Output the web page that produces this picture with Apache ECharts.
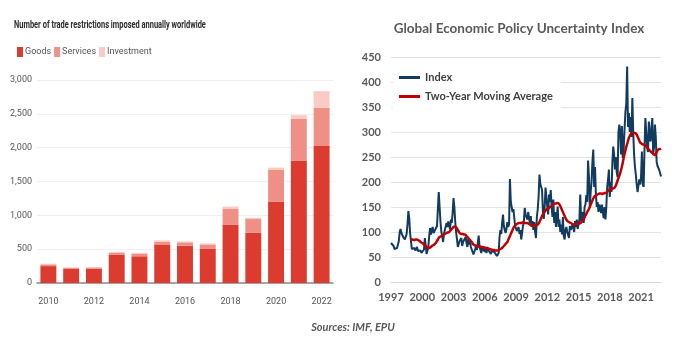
<!DOCTYPE html>
<html>
<head>
<meta charset="utf-8">
<script src="https://cdn.jsdelivr.net/npm/echarts@6/dist/echarts.min.js"></script>
<style>
html,body{margin:0;padding:0;background:#fff;}
#chart{width:700px;height:358px;}
</style>
</head>
<body>
<div id="chart"></div>
<script>
// ---- Left panel: trade restrictions ----
const years = ['2010','2011','2012','2013','2014','2015','2016','2017','2018','2019','2020','2021','2022'];
const goods = [250, 210, 210, 420, 395, 570, 550, 510, 865, 745, 1205, 1805, 2025];
const services = [25, 15, 20, 30, 40, 40, 50, 60, 235, 200, 465, 625, 565];
const investment = [10, 5, 5, 10, 10, 20, 15, 15, 30, 20, 35, 50, 245];

// ---- Right panel: Global EPU index (monthly, Jan 1997 - Dec 2022) ----
const epuStartYear = 1997;
const epuEndYear = 2022;
const epuIndex = [
  78, 76, 80, 72, 66, 63, 65, 68, 72, 82, 100, 106,
  98, 94, 90, 86, 85, 88, 96, 115, 142, 128, 98, 82,
  66, 70, 64, 68, 63, 66, 70, 62, 65, 60, 63, 58,
  62, 60, 65, 88, 72, 56, 54, 70, 92, 108, 95, 104,
  110, 98, 95, 105, 102, 112, 108, 180, 176, 120, 100, 92,
  80, 96, 104, 100, 118, 110, 121, 115, 105, 125, 118, 138,
  168, 150, 120, 100, 85, 70, 74, 82, 78, 88, 72, 80,
  76, 84, 90, 78, 70, 86, 75, 82, 70, 66, 60, 55,
  52, 66, 72, 64, 68, 93, 70, 64, 58, 70, 62, 68,
  60, 66, 58, 70, 64, 60, 68, 56, 62, 58, 64, 60,
  56, 62, 52, 48, 58, 90, 104, 96, 118, 135, 112, 104,
  98, 106, 120, 110, 115, 206, 160, 150, 140, 146, 128, 112,
  108, 102, 100, 110, 96, 104, 85, 98, 112, 120, 148, 135,
  130, 125, 140, 128, 118, 132, 110, 122, 104, 120, 100, 88,
  130, 145, 170, 215, 196, 200, 184, 140, 126, 150, 189, 170,
  150, 135, 175, 160, 184, 150, 130, 165, 118, 140, 110, 130,
  151, 110, 125, 100, 115, 95, 130, 92, 85, 105, 110, 100,
  96, 88, 112, 104, 100, 115, 118, 100, 122, 110, 125, 106,
  110, 124, 175, 122, 132, 140, 118, 150, 155, 174, 160, 243,
  210, 150, 180, 200, 240, 265, 190, 230, 176, 150, 160, 140,
  155, 150, 138, 155, 140, 128, 150, 125, 150, 190, 205, 225,
  170, 200, 180, 240, 271, 255, 225, 250, 220, 210, 300, 315,
  300, 255, 312, 248, 265, 305, 340, 357, 431, 310, 338, 300,
  330, 290, 368, 300, 255, 230, 215, 195, 180, 176, 205, 195,
  210, 261, 195, 190, 265, 328, 300, 270, 260, 321, 290, 281,
  310, 328, 255, 270, 315, 290, 240, 232, 230, 224, 226, 211
];
const epuMovingAvg = [
  null, null, null, null, null, null, null, null, null, null, null, null,
  null, null, null, null, null, null, null, null, null, null, null, 85,
  85, 85, 84, 84, 85, 85, 85, 84, 83, 82, 80, 79,
  78, 77, 75, 74, 72, 70, 69, 68, 68, 69, 70, 72,
  73, 74, 75, 77, 79, 82, 85, 88, 90, 91, 92, 93,
  94, 95, 96, 97, 98, 99, 99, 100, 102, 104, 106, 108,
  110, 111, 110, 109, 107, 104, 101, 98, 97, 96, 96, 96,
  95, 95, 94, 92, 90, 88, 86, 84, 82, 80, 77, 75,
  74, 73, 73, 72, 72, 71, 71, 71, 70, 70, 70, 69,
  69, 68, 68, 67, 67, 66, 66, 65, 65, 64, 64, 64,
  63, 63, 63, 63, 64, 65, 66, 67, 68, 70, 72, 74,
  76, 78, 80, 84, 88, 92, 96, 100, 104, 108, 111, 113,
  115, 116, 117, 118, 118, 118, 118, 119, 119, 118, 118, 118,
  118, 118, 117, 116, 115, 114, 114, 113, 113, 112, 113, 113,
  114, 115, 117, 120, 124, 128, 132, 135, 138, 141, 143, 145,
  146, 147, 148, 150, 151, 152, 154, 155, 156, 157, 157, 158,
  158, 157, 155, 152, 148, 144, 140, 136, 132, 128, 125, 122,
  121, 120, 119, 118, 117, 116, 115, 115, 115, 116, 116, 117,
  117, 117, 118, 119, 121, 123, 126, 129, 133, 136, 140, 143,
  146, 150, 155, 159, 163, 167, 170, 172, 173, 174, 175, 176,
  177, 177, 177, 176, 177, 177, 178, 178, 179, 180, 182, 184,
  185, 186, 186, 187, 187, 188, 190, 193, 198, 203, 208, 213,
  218, 224, 231, 239, 248, 256, 263, 270, 276, 282, 288, 292,
  295, 297, 298, 298, 298, 298, 297, 295, 291, 287, 283, 279,
  278, 276, 275, 275, 274, 273, 271, 269, 267, 265, 263, 261,
  260, 258, 256, 255, 254, 256, 260, 263, 265, 266, 266, 267
];

const months = [];
for (let y = epuStartYear; y <= epuEndYear; y++) {
  for (let m = 1; m <= 12; m++) months.push(y + '-' + (m < 10 ? '0' + m : m));
}

const narrow = "Roboto, 'Liberation Sans', sans-serif";
const calib = "Lato, 'Open Sans', sans-serif";

const chart = echarts.init(document.getElementById('chart'), null, {renderer: 'canvas'});
chart.setOption({
  backgroundColor: '#ffffff',
  animation: false,
  graphic: [
    {
      type: 'text', x: 14, y: 20, scaleX: 0.71,
      style: {
        text: 'Number of trade restrictions imposed annually worldwide',
        font: 'bold 10.5px Roboto, sans-serif', fill: '#2b2b2b',
        textVerticalAlign: 'top'
      }
    }
  ],
  title: [
    {
      text: 'Global Economic Policy Uncertainty Index',
      left: 514, top: 17, textAlign: 'center',
      textStyle: {fontFamily: calib, fontSize: 13.5, fontWeight: 'bold', color: '#595959'}
    },
    {
      text: 'Sources: IMF, EPU',
      left: 348, top: 317, textAlign: 'center',
      textStyle: {fontFamily: calib, fontSize: 11, fontWeight: 'bold', fontStyle: 'italic', color: '#595959'}
    }
  ],
  legend: [
    {
      data: ['Goods', 'Services', 'Investment'],
      left: 12, top: 42,
      icon: 'rect', itemWidth: 6, itemHeight: 10, itemGap: 3,
      textStyle: {fontFamily: narrow, fontSize: 9, color: '#555', padding: [0, 0, 0, -3]}
    },
    {
      data: ['Index', 'Two-Year Moving Average'],
      left: 393, top: 66, orient: 'vertical',
      icon: 'rect', itemWidth: 21, itemHeight: 3, itemGap: 8,
      backgroundColor: '#ffffff',
      padding: [6, 8, 8, 6],
      textStyle: {fontFamily: calib, fontSize: 11, fontWeight: 'bold', color: '#404040'}
    }
  ],
  grid: [
    {left: 37, right: 367, top: 80, bottom: 75},
    {left: 391, right: 39, top: 57, bottom: 76}
  ],
  xAxis: [
    {
      gridIndex: 0, type: 'category', data: years,
      axisLine: {lineStyle: {color: '#8a8a8a', width: 1.5}},
      axisTick: {show: false},
      axisLabel: {interval: 1, margin: 14, fontFamily: narrow, fontSize: 9, color: '#555'}
    },
    {
      gridIndex: 1, type: 'category', data: months, boundaryGap: false,
      axisLine: {lineStyle: {color: '#d9d9d9', width: 1}},
      axisTick: {show: false},
      axisLabel: {
        interval: 35, margin: 10, fontFamily: calib, fontSize: 11, fontWeight: 'bold', color: '#595959',
        formatter: v => v.slice(0, 4)
      }
    }
  ],
  yAxis: [
    {
      gridIndex: 0, type: 'value', min: 0, max: 3000, interval: 500,
      axisLine: {show: false}, axisTick: {show: false},
      splitLine: {lineStyle: {color: '#efefef', width: 1}},
      axisLabel: {margin: 5, fontFamily: narrow, fontSize: 9, color: '#555',
        formatter: v => v.toLocaleString('en-US')}
    },
    {
      gridIndex: 1, type: 'value', min: 0, max: 450, interval: 50,
      axisLine: {show: false}, axisTick: {show: false},
      splitLine: {lineStyle: {color: '#e3e3e3', width: 1}},
      axisLabel: {margin: 10, fontFamily: calib, fontSize: 11, fontWeight: 'bold', color: '#595959'}
    }
  ],
  series: [
    {name: 'Goods', type: 'bar', stack: 'tr', xAxisIndex: 0, yAxisIndex: 0, data: goods,
     barWidth: '70%', itemStyle: {color: '#dc3c30'}},
    {name: 'Services', type: 'bar', stack: 'tr', xAxisIndex: 0, yAxisIndex: 0, data: services,
     barWidth: '70%', itemStyle: {color: '#ef9087'}},
    {name: 'Investment', type: 'bar', stack: 'tr', xAxisIndex: 0, yAxisIndex: 0, data: investment,
     barWidth: '70%', itemStyle: {color: '#f9cbc2'}},
    {name: 'Index', type: 'line', xAxisIndex: 1, yAxisIndex: 1, data: epuIndex,
     symbol: 'none', lineStyle: {color: '#123b60', width: 2}, itemStyle: {color: '#123b60'}},
    {name: 'Two-Year Moving Average', type: 'line', xAxisIndex: 1, yAxisIndex: 1, data: epuMovingAvg,
     symbol: 'none', smooth: 0.3, lineStyle: {color: '#c00000', width: 2.5}, itemStyle: {color: '#c00000'}}
  ]
});
</script>
</body>
</html>
